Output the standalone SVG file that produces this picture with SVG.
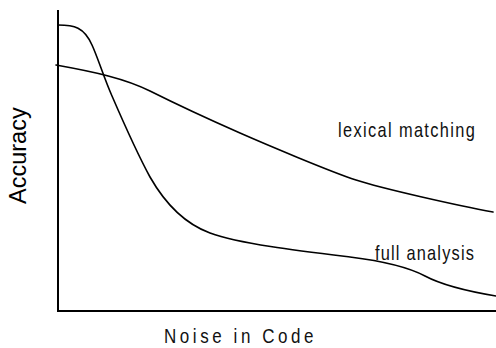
<svg xmlns="http://www.w3.org/2000/svg" width="496" height="348" viewBox="0 0 496 348">
  <style>
    .axis { fill: none; stroke: #000; stroke-width: 2; }
    .curve { fill: none; stroke: #000; stroke-width: 1.6; stroke-linecap: round; }
    .label { font-family: "Liberation Sans", Arial, sans-serif; fill: #111; font-size: 20px; }
    .ylabel { font-family: "Liberation Sans", Arial, sans-serif; fill: #000; font-size: 23.5px; }
  </style>
  <rect width="496" height="348" fill="#fff"/>

  <!-- plot axes -->
  <g id="axes">
    <path class="axis" d="M58,10 V311 H496"/>
  </g>

  <!-- accuracy curves -->
  <g id="curves">
    <path id="full-analysis-curve" class="curve" d="M58,25 C74,25 84,27 92,45 C98,58 104,78 112,96 C125,126 138,155 150,177 C162,198 180,222 210,233 C240,244 300,251 350,257 C390,262 410,268 425,276 C440,284 460,290 496,296"/>
    <path id="lexical-matching-curve" class="curve" d="M56,65 C95,72 125,78.5 150,91 C175,103.5 215,122 240,133 C265,144 330,171.4 356,180 C382,188.6 460,206 493,212"/>
  </g>

  <!-- curve labels, set in a condensed, tracked face -->
  <g id="lexical-matching">
    <text class="label" transform="translate(338,137) scale(0.82,1)" letter-spacing="1.65">lexical matching</text>
  </g>
  <g id="full-analysis">
    <text class="label" transform="translate(375,260) scale(0.82,1)" letter-spacing="1.45">full analysis</text>
  </g>

  <!-- axis titles -->
  <g id="x-title">
    <text class="label" transform="translate(164,343) scale(0.85,1)" font-size="22" letter-spacing="4.2">Noise in Code</text>
  </g>
  <g id="y-title">
    <text class="ylabel" transform="translate(26,204) rotate(-90)">Accuracy</text>
  </g>
</svg>
